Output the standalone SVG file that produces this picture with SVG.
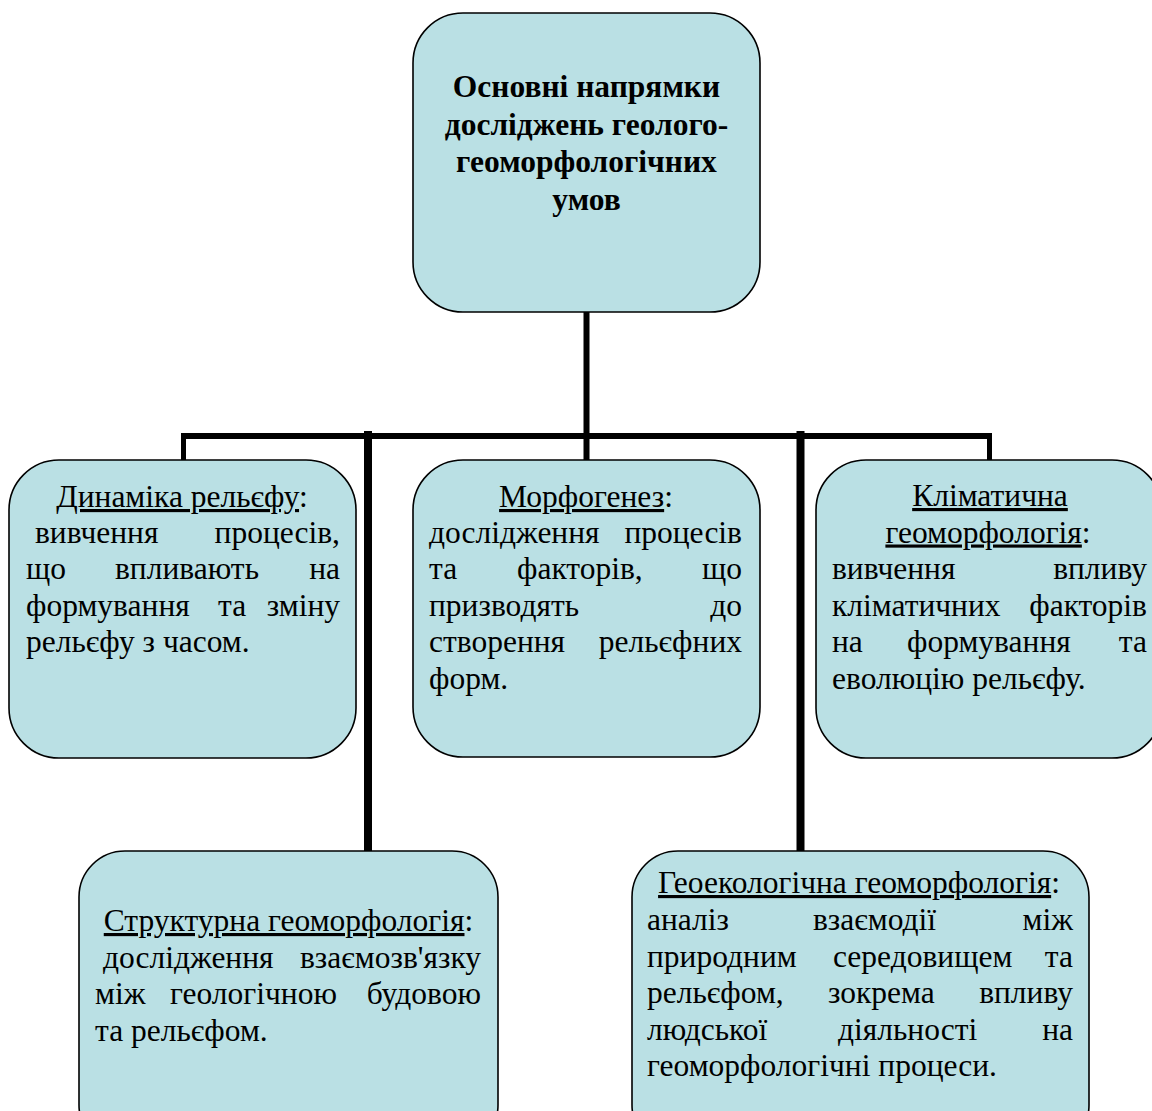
<svg xmlns="http://www.w3.org/2000/svg" width="1152" height="1111" viewBox="0 0 1152 1111">
<style>
.box{fill:#BAE0E4;stroke:#000;stroke-width:1.6}
.t{font-family:"Liberation Serif","Times New Roman",serif;font-size:31.5px;fill:#000}
.b{font-weight:bold}
.m{text-anchor:middle}
.e{text-anchor:end}
.u{text-decoration:underline}
.c{stroke:#000;fill:none}
</style>
<rect width="1152" height="1111" fill="#fff"/>
<g id="connectors">
<line class="c" x1="586.5" y1="312" x2="586.5" y2="460" stroke-width="6"/>
<line class="c" x1="181" y1="436" x2="992" y2="436" stroke-width="6"/>
<line class="c" x1="183.5" y1="436" x2="183.5" y2="460" stroke-width="5"/>
<line class="c" x1="989.5" y1="436" x2="989.5" y2="460" stroke-width="5"/>
<line class="c" x1="368" y1="431" x2="368" y2="851" stroke-width="8"/>
<line class="c" x1="800.5" y1="431" x2="800.5" y2="851" stroke-width="8"/>
</g>
<g id="root">
<rect class="box" x="413" y="13" width="347" height="299" rx="50"/>
<text class="t b m" x="586.5" y="97">Основні напрямки</text>
<text class="t b m" x="586.5" y="134.5">досліджень геолого-</text>
<text class="t b m" x="586.5" y="172">геоморфологічних</text>
<text class="t b m" x="586.5" y="209.5">умов</text>
</g>
<g id="dynamics">
<rect class="box" x="9" y="460" width="347" height="298" rx="50"/>
<text class="t m" x="182" y="507"><tspan class="u">Динаміка рельєфу</tspan>:</text>
<text class="t" x="35" y="542.5">вивчення</text>
<text class="t e" x="340" y="542.5">процесів,</text>
<text class="t" x="26" y="579">що</text>
<text class="t" x="115" y="579">впливають</text>
<text class="t e" x="340" y="579">на</text>
<text class="t" x="26" y="615.5">формування</text>
<text class="t" x="218" y="615.5">та</text>
<text class="t e" x="340" y="615.5">зміну</text>
<text class="t" x="26" y="652">рельєфу з часом.</text>
</g>
<g id="morphogenesis">
<rect class="box" x="413" y="460" width="347" height="297" rx="50"/>
<text class="t m" x="586" y="507"><tspan class="u">Морфогенез</tspan>:</text>
<text class="t" x="429" y="542.5">дослідження</text>
<text class="t e" x="742" y="542.5">процесів</text>
<text class="t" x="429" y="579">та</text>
<text class="t" x="517" y="579">факторів,</text>
<text class="t e" x="742" y="579">що</text>
<text class="t" x="429" y="615.5">призводять</text>
<text class="t e" x="742" y="615.5">до</text>
<text class="t" x="429" y="652">створення</text>
<text class="t e" x="742" y="652">рельєфних</text>
<text class="t" x="429" y="688.5">форм.</text>
</g>
<g id="climatic">
<rect class="box" x="816" y="460" width="346" height="298" rx="50"/>
<text class="t m" x="990" y="506"><tspan class="u">Кліматична</tspan></text>
<text class="t m" x="988" y="542.5"><tspan class="u">геоморфологія</tspan>:</text>
<text class="t" x="832" y="579">вивчення</text>
<text class="t e" x="1147" y="579">впливу</text>
<text class="t" x="832" y="615.5">кліматичних</text>
<text class="t e" x="1147" y="615.5">факторів</text>
<text class="t" x="832" y="652">на</text>
<text class="t" x="907" y="652">формування</text>
<text class="t e" x="1147" y="652">та</text>
<text class="t" x="832" y="688.5">еволюцію рельєфу.</text>
</g>
<g id="structural">
<rect class="box" x="79" y="851" width="419" height="300" rx="46"/>
<text class="t m" x="288.5" y="931"><tspan class="u">Структурна геоморфологія</tspan>:</text>
<text class="t" x="103" y="967.5">дослідження</text>
<text class="t e" x="481" y="967.5">взаємозв'язку</text>
<text class="t" x="95" y="1004">між</text>
<text class="t" x="170" y="1004">геологічною</text>
<text class="t e" x="481" y="1004">будовою</text>
<text class="t" x="95" y="1040.5">та рельєфом.</text>
</g>
<g id="geoecological">
<rect class="box" x="632" y="851" width="457" height="300" rx="46"/>
<text class="t m" x="859" y="893"><tspan class="u">Геоекологічна геоморфологія</tspan>:</text>
<text class="t" x="647" y="930">аналіз</text>
<text class="t" x="813" y="930">взаємодії</text>
<text class="t e" x="1073" y="930">між</text>
<text class="t" x="647" y="966.5">природним</text>
<text class="t" x="833" y="966.5">середовищем</text>
<text class="t e" x="1073" y="966.5">та</text>
<text class="t" x="647" y="1003">рельєфом,</text>
<text class="t" x="828" y="1003">зокрема</text>
<text class="t e" x="1073" y="1003">впливу</text>
<text class="t" x="647" y="1039.5">людської</text>
<text class="t" x="838" y="1039.5">діяльності</text>
<text class="t e" x="1073" y="1039.5">на</text>
<text class="t" x="647" y="1076">геоморфологічні процеси.</text>
</g>
</svg>
